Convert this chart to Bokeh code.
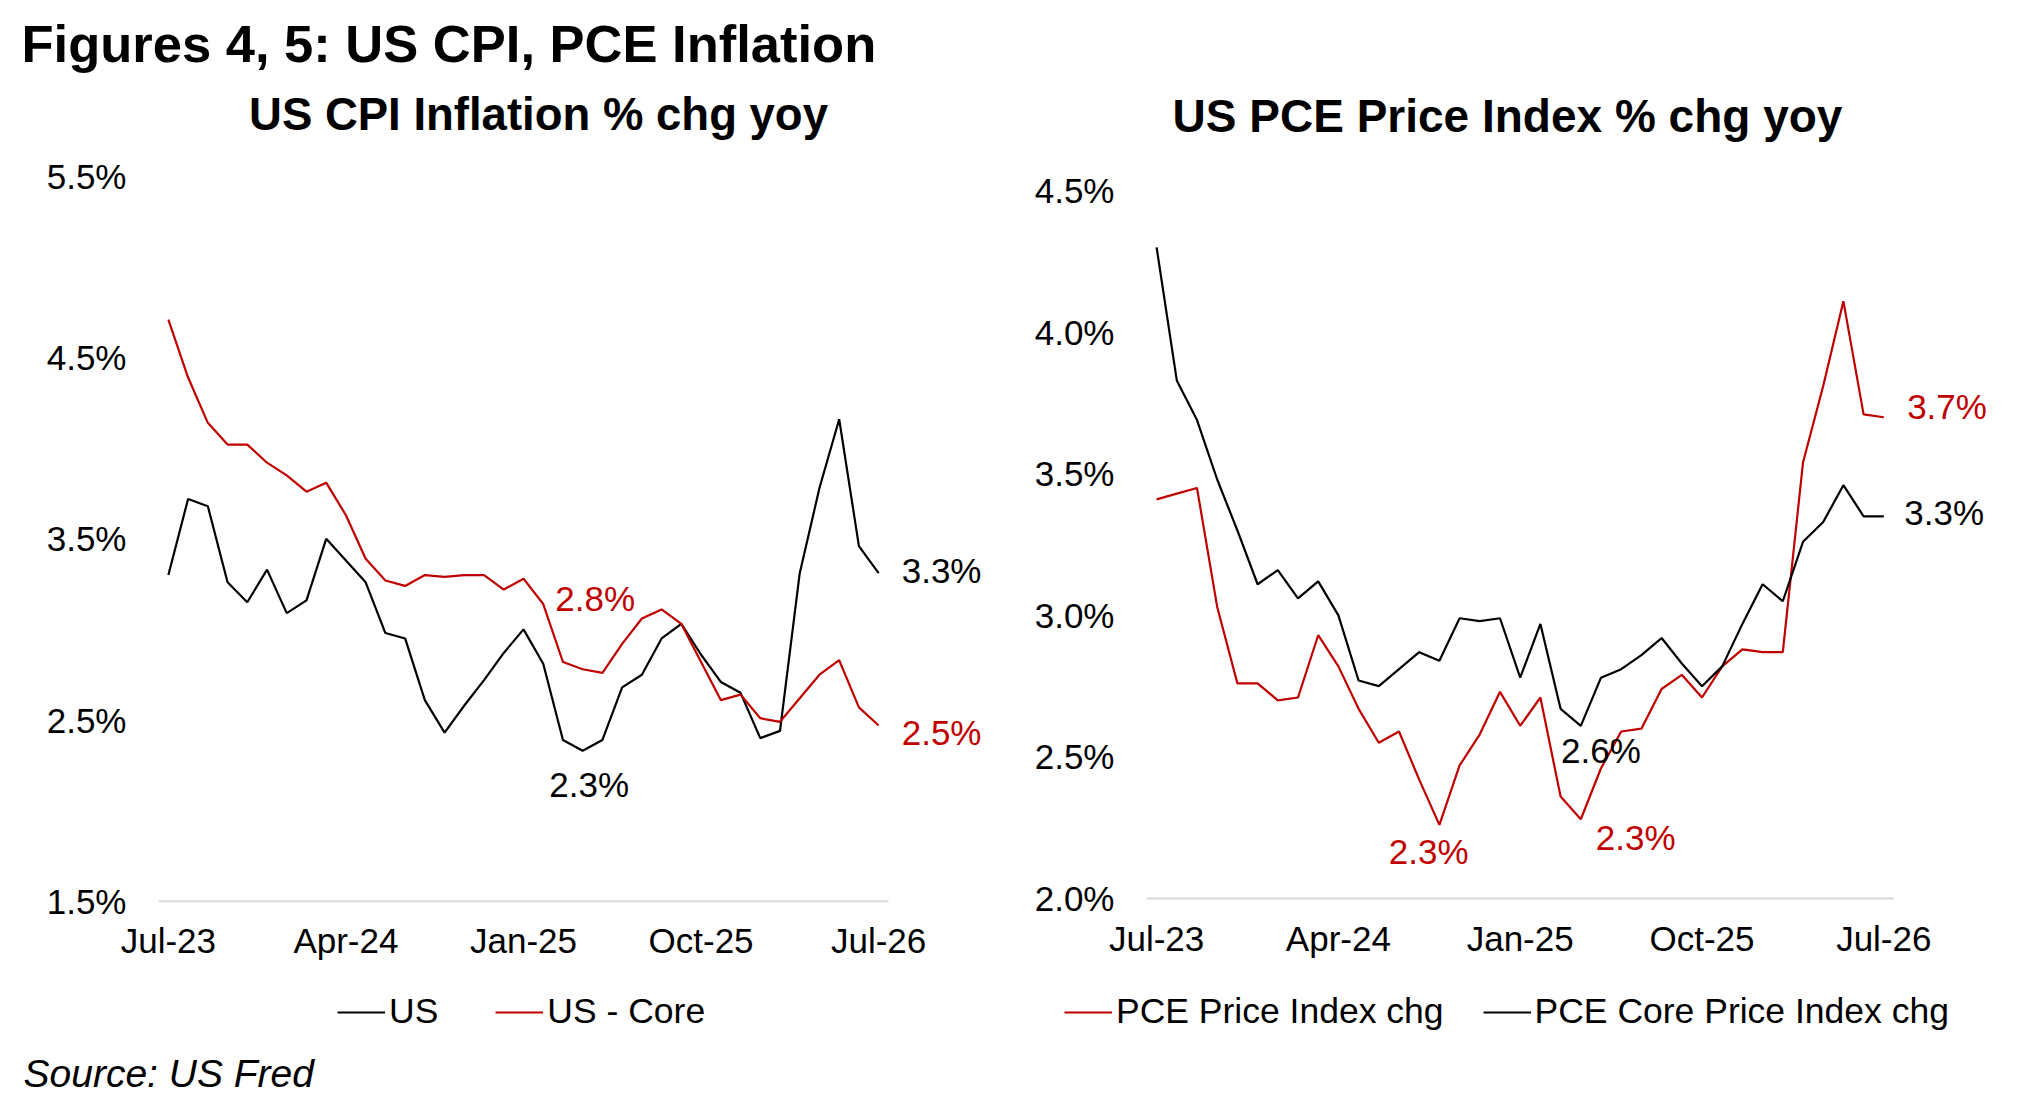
from bokeh.plotting import figure
from bokeh.models import FixedTicker, Range1d, Label, Legend, LegendItem
from bokeh.layouts import row, column
from bokeh.embed import file_html
from bokeh.resources import INLINE

# ---------------- data ----------------
months = ["Jul-23", "Aug-23", "Sep-23", "Oct-23", "Nov-23", "Dec-23",
          "Jan-24", "Feb-24", "Mar-24", "Apr-24", "May-24", "Jun-24",
          "Jul-24", "Aug-24", "Sep-24", "Oct-24", "Nov-24", "Dec-24",
          "Jan-25", "Feb-25", "Mar-25", "Apr-25", "May-25", "Jun-25",
          "Jul-25", "Aug-25", "Sep-25", "Oct-25", "Nov-25", "Dec-25",
          "Jan-26", "Feb-26", "Mar-26", "Apr-26", "May-26", "Jun-26",
          "Jul-26"]
x_tick_labels = ["Jul-23", "Apr-24", "Jan-25", "Oct-25", "Jul-26"]

cpi_us = [3.30, 3.72, 3.68, 3.26, 3.15, 3.33, 3.09, 3.16, 3.50, 3.38,
          3.26, 2.98, 2.95, 2.61, 2.43, 2.58, 2.72, 2.87, 3.00, 2.81,
          2.39, 2.33, 2.39, 2.68, 2.75, 2.95, 3.03, 2.86, 2.71, 2.65,
          2.40, 2.44, 3.31, 3.78, 4.16, 3.46, 3.31]
cpi_core = [4.71, 4.39, 4.14, 4.02, 4.02, 3.92, 3.85, 3.76, 3.81, 3.63,
            3.39, 3.27, 3.24, 3.30, 3.29, 3.30, 3.30, 3.22, 3.28, 3.14,
            2.82, 2.78, 2.76, 2.92, 3.06, 3.11, 3.03, 2.82, 2.61, 2.64,
            2.51, 2.49, 2.62, 2.75, 2.83, 2.57, 2.47]
pce = [3.41, 3.43, 3.45, 3.03, 2.76, 2.76, 2.70, 2.71, 2.93, 2.82,
       2.67, 2.55, 2.59, 2.42, 2.26, 2.47, 2.58, 2.73, 2.61, 2.71,
       2.36, 2.28, 2.46, 2.59, 2.60, 2.74, 2.79, 2.71, 2.82, 2.88,
       2.87, 2.87, 3.54, 3.81, 4.11, 3.71, 3.70]
pce_core = [4.30, 3.83, 3.69, 3.48, 3.30, 3.11, 3.16, 3.06, 3.12, 3.00,
            2.77, 2.75, 2.81, 2.87, 2.84, 2.99, 2.98, 2.99, 2.78, 2.97,
            2.67, 2.61, 2.78, 2.81, 2.86, 2.92, 2.83, 2.75, 2.82, 2.97,
            3.11, 3.05, 3.26, 3.33, 3.46, 3.35, 3.35]

cpi_y_ticks = [1.5, 2.5, 3.5, 4.5, 5.5]
pce_y_ticks = [2.0, 2.5, 3.0, 3.5, 4.0, 4.5]

main_title = "Figures 4, 5: US CPI, PCE Inflation"
left_title = "US CPI Inflation % chg yoy"
right_title = "US PCE Price Index % chg yoy"
source_text = "Source: US Fred"
cpi_names = ["US", "US - Core"]
pce_names = ["PCE Price Index chg", "PCE Core Price Index chg"]

RED = "#C00000"
BLACK = "#000000"
GREY = "#D9D9D9"
FONT = "Liberation Sans"
LW = 2.2
NAN = float("nan")
idx = list(range(len(months)))
tick_pos = [months.index(m) for m in x_tick_labels]

# ---------------- layout geometry (pixels) ----------------
TOTAL_W = 2010
HEADER_H = 88
FRAME_H = 816
BOTTOM = 71
FOOTER_H = 135


def style(p, yticks, standoff_x):
    p.xaxis.ticker = FixedTicker(ticks=tick_pos)
    p.xaxis.major_label_overrides = {i: m for i, m in zip(tick_pos, x_tick_labels)}
    p.yaxis.ticker = FixedTicker(ticks=yticks)
    p.yaxis.major_label_overrides = {v: f"{v:.1f}%" for v in yticks}
    for ax in (p.xaxis, p.yaxis):
        ax.major_tick_line_color = None
        ax.minor_tick_line_color = None
        ax.major_tick_out = 0
        ax.major_tick_in = 0
        ax.axis_line_color = None
        ax.major_label_text_font = FONT
        ax.major_label_text_font_size = "35px"
        ax.major_label_text_color = "#000000"
    p.xaxis.major_label_standoff = standoff_x
    p.yaxis.major_label_standoff = 32
    p.xgrid.visible = False
    p.ygrid.visible = False
    p.outline_line_color = None
    p.background_fill_color = "white"
    p.border_fill_color = "white"


def add_label(p, x, y, text, color, size="35px", bold=False, italic=False,
              align="center", units="data"):
    style_ = "bold" if bold else ("italic" if italic else "normal")
    p.add_layout(Label(x=x, y=y, x_units=units, y_units=units, text=text,
                       text_color=color, text_font=FONT, text_font_size=size,
                       text_font_style=style_, text_align=align,
                       text_baseline="middle"))


def blank(width, height):
    f = figure(width=width, height=height, x_axis_type=None, y_axis_type=None,
               x_range=Range1d(0, width), y_range=Range1d(0, height),
               toolbar_location=None, output_backend="svg", min_border=0)
    f.outline_line_color = None
    f.grid.visible = False
    return f


def make_legend(items, loc, spacing):
    return Legend(items=items, location=loc, orientation="horizontal",
                  glyph_width=48, glyph_height=40, label_height=40,
                  label_standoff=4, spacing=spacing,
                  padding=0, margin=0, border_line_color=None,
                  background_fill_alpha=0, label_text_font=FONT,
                  label_text_font_size="35.5px", label_text_color="#000000")


# ---------------- header ----------------
header = blank(TOTAL_W, HEADER_H)
add_label(header, 21, 45, main_title, BLACK, size="52.5px", bold=True,
          align="left", units="screen")

# ---------------- left: CPI ----------------
l_left, l_fw, l_right = 158, 846, 8
l_px_month, l_px_unit = 19.73, 181.2
l_base_from_bottom = 3.3
pl = figure(frame_width=l_fw, frame_height=FRAME_H,
            min_border_left=l_left, min_border_right=l_right,
            min_border_top=0, min_border_bottom=BOTTOM,
            x_range=Range1d(-0.5, -0.5 + l_fw / l_px_month),
            y_range=Range1d(cpi_y_ticks[0] - l_base_from_bottom / l_px_unit,
                            cpi_y_ticks[0] + (FRAME_H - l_base_from_bottom) / l_px_unit),
            toolbar_location=None, output_backend="svg")
style(pl, cpi_y_ticks, 16)
pl.segment(x0=[-0.5], x1=[len(months) - 0.5], y0=[cpi_y_ticks[0]], y1=[cpi_y_ticks[0]],
           line_color=GREY, line_width=2)
r_us = pl.line(idx, cpi_us, line_color=BLACK, line_width=LW)
r_core = pl.line(idx, cpi_core, line_color=RED, line_width=LW)

add_label(pl, 380, 790, left_title, BLACK, size="45.5px", bold=True, units="screen")
add_label(pl, 21.63, 3.171, "2.8%", RED)
add_label(pl, 21.33, 2.144, "2.3%", BLACK)
add_label(pl, 39.19, 3.325, "3.3%", BLACK)
add_label(pl, 39.19, 2.431, "2.5%", RED)

# ---------------- right: PCE ----------------
r_left, r_fw, r_right = 134, 864, 0
r_px_month, r_px_unit = 20.2, 283.1
r_base_from_bottom = 6.0
pr = figure(frame_width=r_fw, frame_height=FRAME_H,
            min_border_left=r_left, min_border_right=r_right,
            min_border_top=0, min_border_bottom=BOTTOM,
            x_range=Range1d(-0.5, -0.5 + r_fw / r_px_month),
            y_range=Range1d(pce_y_ticks[0] - r_base_from_bottom / r_px_unit,
                            pce_y_ticks[0] + (FRAME_H - r_base_from_bottom) / r_px_unit),
            toolbar_location=None, output_backend="svg")
style(pr, pce_y_ticks, 14)
pr.segment(x0=[-0.5], x1=[len(months) - 0.5], y0=[pce_y_ticks[0]], y1=[pce_y_ticks[0]],
           line_color=GREY, line_width=2)
r_pce = pr.line(idx, pce, line_color=RED, line_width=LW)
r_pcec = pr.line(idx, pce_core, line_color=BLACK, line_width=LW)

add_label(pr, 361, 789, right_title, BLACK, size="46px", bold=True, units="screen")
add_label(pr, 39.13, 3.738, "3.7%", RED)
add_label(pr, 38.99, 3.363, "3.3%", BLACK)
add_label(pr, 22.0, 2.524, "2.6%", BLACK)
add_label(pr, 13.47, 2.165, "2.3%", RED)
add_label(pr, 23.72, 2.217, "2.3%", RED)

# ---------------- footer: legends + source ----------------
# legend keys styled like the chart lines (no data of their own)
footer = blank(TOTAL_W, FOOTER_H)
k_us = footer.line(x=[NAN], y=[NAN], line_color=BLACK, line_width=LW)
k_core = footer.line(x=[NAN], y=[NAN], line_color=RED, line_width=LW)
k_pce = footer.line(x=[NAN], y=[NAN], line_color=RED, line_width=LW)
k_pcec = footer.line(x=[NAN], y=[NAN], line_color=BLACK, line_width=LW)
footer.add_layout(make_legend([LegendItem(label=cpi_names[0], renderers=[k_us]),
                               LegendItem(label=cpi_names[1], renderers=[k_core])],
                              (337, 78), 57))
footer.add_layout(make_legend([LegendItem(label=pce_names[0], renderers=[k_pce]),
                               LegendItem(label=pce_names[1], renderers=[k_pcec])],
                              (1064, 78), 39))
add_label(footer, 23, 37, source_text, BLACK, size="39px", italic=True,
          align="left", units="screen")

layout = column(header, row(pl, pr), footer)
open("out.html", "w").write(file_html(layout, INLINE))
